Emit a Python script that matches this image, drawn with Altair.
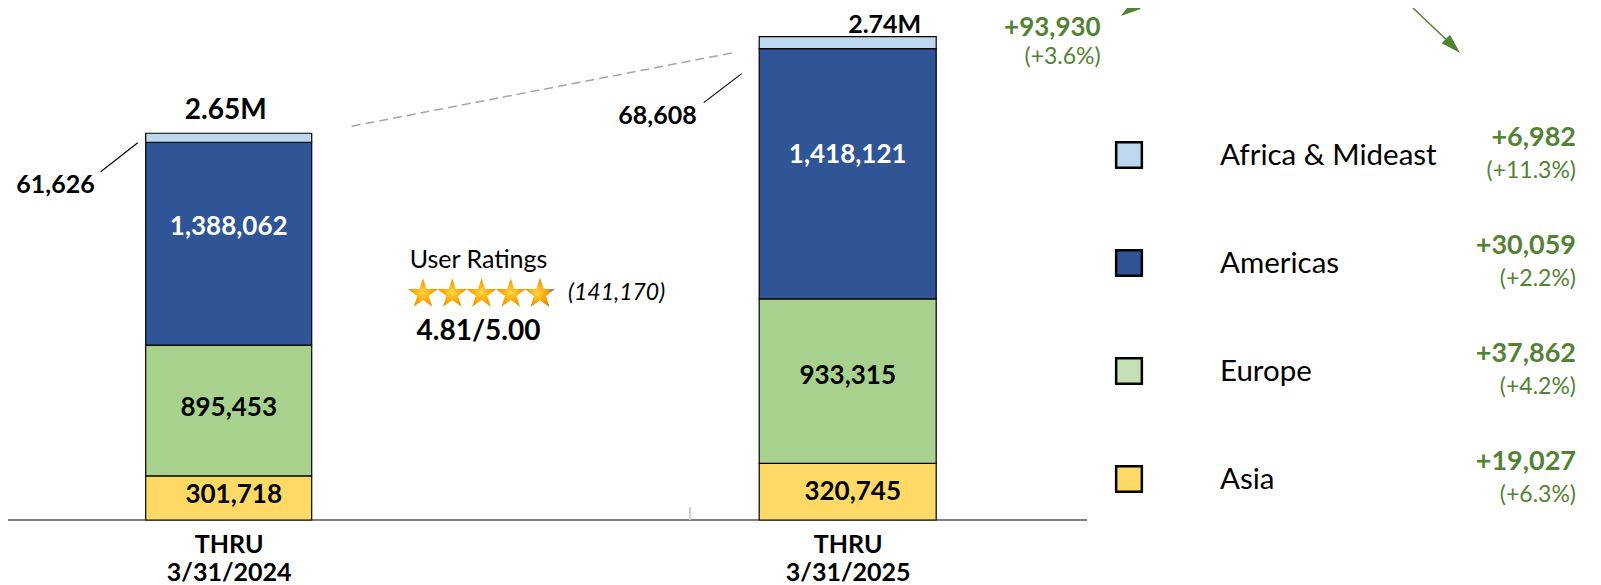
import math
import altair as alt
import pandas as pd

# ---------------- data ----------------
periods = ["3/31/2024", "3/31/2025"]
regions = ["Asia", "Europe", "Americas", "Africa & Mideast"]          # bottom -> top of stack
users_2024 = [301718, 895453, 1388062, 61626]
users_2025 = [320745, 933315, 1418121, 68608]
change_labels = ["+19,027", "+37,862", "+30,059", "+6,982"]
pct_labels = ["(+6.3%)", "(+4.2%)", "(+2.2%)", "(+11.3%)"]
total_change_label = "+93,930"
total_pct_label = "(+3.6%)"
legend_order = ["Africa & Mideast", "Americas", "Europe", "Asia"]
bar_colors = ["#FFD966", "#A9D18E", "#2F5597", "#BDD7EE"]
legend_colors = ["#FFD966", "#C5E0B4", "#2F5597", "#BDD7EE"]
rating = 4.81
rating_max = 5.0
rating_count = 141170
star_index = [1, 2, 3, 4, 5]

FONT = "Lato"
GREEN = "#548235"

# ---------------- scales ----------------
xscale = alt.Scale(type="point", domain=periods, range=[220.7, 839.7], padding=0)
xaxis = alt.Axis(title=None, domain=False, ticks=False, grid=False, labelAngle=0,
                 labelExpr="['THRU', datum.label]", labelFont=FONT, labelFontSize=25,
                 labelFontWeight="bold", labelColor="black", labelPadding=12,
                 labelLineHeight=28)
X = alt.X("period:N", scale=xscale, axis=xaxis)
color_scale = alt.Scale(domain=regions, range=bar_colors)


def period_group(period, values, ymax, bar_width, cfg):
    df = pd.DataFrame({"period": period, "region": regions, "users": values,
                       "k": list(range(len(regions)))})
    ys = alt.Scale(domain=[0, ymax], nice=False, zero=True)
    base = (alt.Chart(df)
            .transform_stack(as_=["y0", "y1"], stack="users", groupby=["period"],
                             sort=[alt.SortField("k", order="ascending")])
            .transform_joinaggregate(total="sum(users)", groupby=["period"])
            .transform_calculate(mid="(datum.y0 + datum.y1) / 2",
                                 total_label="format(datum.total / 1e6, '.2f') + 'M'"))
    bars = base.mark_bar(size=bar_width, stroke="black", strokeWidth=1.2).encode(
        x=X, y=alt.Y("y0:Q", scale=ys, axis=None), y2="y1:Q",
        color=alt.Color("region:N", scale=color_scale, legend=None))

    def seg_label(region, col, dx, dy):
        return base.transform_filter(alt.datum.region == region).mark_text(
            font=FONT, fontSize=26, fontWeight="bold", color=col, dx=dx, dy=dy,
            baseline="middle").encode(
            x=X, y=alt.Y("mid:Q", scale=ys, axis=None),
            text=alt.Text("users:Q", format=","))

    top = base.transform_filter(alt.datum.region == regions[-1])
    Ytop = alt.Y("y1:Q", scale=ys, axis=None)
    leader = top.mark_rule(color="black", strokeWidth=1.2,
                           xOffset=cfg["lead"][0], x2Offset=cfg["lead"][1],
                           yOffset=cfg["lead"][2], y2Offset=cfg["lead"][3]).encode(
        x=X, x2="period:N", y=Ytop, y2="y1:Q")
    small_label = top.mark_text(font=FONT, fontSize=25, fontWeight="bold", color="black",
                                align="right", baseline="alphabetic",
                                dx=cfg["small"][0], dy=cfg["small"][1]).encode(
        x=X, y=Ytop, text=alt.Text("users:Q", format=","))
    total_label = top.mark_text(font=FONT, fontSize=cfg["total_size"], fontWeight="bold",
                                color="black", baseline="alphabetic",
                                dx=cfg["total"][0], dy=cfg["total"][1]).encode(
        x=X, y=Ytop, text="total_label:N")
    layers = [bars,
              seg_label("Americas", "white", 0, cfg["am_dy"]),
              seg_label("Europe", "black", 0, cfg["eu_dy"]),
              seg_label("Asia", "black", 5, cfg["as_dy"]),
              leader, small_label, total_label]
    if cfg.get("dashed"):
        layers.append(top.mark_rule(color="#A6A6A6", strokeWidth=1.5, strokeDash=[9, 5],
                                    xOffset=123, x2Offset=-116, yOffset=-7).encode(
            x=X, x2=alt.datum(periods[1]), y=Ytop, y2=alt.value(45)))
    if cfg.get("change"):
        layers.append(top.mark_text(font=FONT, fontSize=26, fontWeight="bold", color=GREEN,
                                    align="right", baseline="alphabetic", dx=253, dy=-1).encode(
            x=X, y=Ytop, text=alt.value(total_change_label)))
        layers.append(top.mark_text(font=FONT, fontSize=23, color=GREEN,
                                    align="right", baseline="alphabetic", dx=253, dy=27).encode(
            x=X, y=Ytop, text=alt.value(total_pct_label)))
    return alt.layer(*layers)


g1 = period_group(periods[0], users_2024, 3504000, 166,
                  dict(lead=(-91, -128, 9.5, 38.5), small=(-134, 60), total=(-3, -14),
                       total_size=28, am_dy=-17, eu_dy=-2, as_dy=-3, dashed=True))
g2 = period_group(periods[1], users_2025, 2903000, 177,
                  dict(lead=(-106, -144, 37, 66), small=(-151, 87), total=(37, -4),
                       total_size=25, am_dy=-19, eu_dy=-5, as_dy=0, change=True))

frame = alt.Chart(pd.DataFrame({"a": [0]}))
baseline = frame.mark_rule(color="black", strokeWidth=1.2).encode(
    x=alt.value(0), x2=alt.value(1079), y=alt.value(512))
stub = frame.mark_rule(color="#D0D0D0", strokeWidth=2).encode(
    x=alt.value(682), y=alt.value(499), y2=alt.value(512))

bars_group = alt.layer(baseline, stub, g1, g2).resolve_scale(y="independent")

# ---------------- star rating ----------------
def star_points():
    pts = []
    for k in range(10):
        r = 1.0 if k % 2 == 0 else 0.382
        a = math.radians(-90 + 36 * k)
        pts.append((r * math.cos(a), r * math.sin(a) + 0.0955))
    return pts


def clip_left(pts, xc):
    out = []
    n = len(pts)
    for i in range(n):
        p, q = pts[i], pts[(i + 1) % n]
        pin, qin = p[0] <= xc, q[0] <= xc
        if pin:
            out.append(p)
        if pin != qin:
            t = (xc - p[0]) / (q[0] - p[0])
            out.append((xc, p[1] + t * (q[1] - p[1])))
    return out


def to_path(pts):
    return "M" + "L".join(f"{x:.4f},{y:.4f}" for x, y in pts) + "Z"


pts = star_points()
xmin = min(p[0] for p in pts)
xmax = max(p[0] for p in pts)
frac = rating - math.floor(rating)
STAR = to_path(pts)
STAR_PART = to_path(clip_left(pts, xmin + frac * (xmax - xmin)))

gold = alt.RadialGradient(gradient="radial", r1=0, r2=0.6,
                          stops=[alt.GradientStop(color="#FFD84A", offset=0),
                                 alt.GradientStop(color="#FFA800", offset=0.5),
                                 alt.GradientStop(color="#EC8200", offset=1)])
grey = alt.RadialGradient(gradient="radial", r1=0, r2=0.6,
                          stops=[alt.GradientStop(color="#A8A8A8", offset=0),
                                 alt.GradientStop(color="#7A7A7A", offset=1)])

sdf = pd.DataFrame({"i": star_index})
sbase = alt.Chart(sdf).transform_calculate(
    fill=f"clamp({rating} - (datum.i - 1), 0, 1)")
SX = alt.X("i:Q", scale=alt.Scale(domain=[1, 5], range=[415, 532]), axis=None)
STAR_SIZE = 1000
full_stars = sbase.transform_filter("datum.fill >= 1").mark_point(
    shape=STAR, size=STAR_SIZE, filled=True, fill=gold, strokeWidth=0, opacity=1).encode(
    x=SX, y=alt.value(284.5))
grey_stars = sbase.transform_filter("datum.fill < 1").mark_point(
    shape=STAR, size=STAR_SIZE, filled=True, fill=grey, strokeWidth=0, opacity=1).encode(
    x=SX, y=alt.value(284.5))
part_stars = sbase.transform_filter("datum.fill > 0 && datum.fill < 1").mark_point(
    shape=STAR_PART, size=STAR_SIZE, filled=True, fill=gold, strokeWidth=0, opacity=1).encode(
    x=SX, y=alt.value(284.5))

one = alt.Chart(pd.DataFrame({"a": [0]}))
t_user = one.mark_text(font=FONT, fontSize=25, color="black", baseline="alphabetic", dx=-3).encode(
    x=alt.datum(3), y=alt.value(260), text=alt.value("User Ratings"))
t_count = one.mark_text(font=FONT, fontSize=23, fontStyle="italic", color="black",
                        align="left", baseline="alphabetic", dx=28).encode(
    x=alt.datum(5), y=alt.value(292), text=alt.value(f"({rating_count:,})"))
t_score = one.mark_text(font=FONT, fontSize=28, fontWeight="bold", color="black",
                        baseline="alphabetic", dx=-3).encode(
    x=alt.datum(3), y=alt.value(332), text=alt.value(f"{rating:.2f}/{rating_max:.2f}"))

stars_group = alt.layer(full_stars, grey_stars, part_stars, t_user, t_count, t_score)

# ---------------- legend with changes ----------------
ldf = pd.DataFrame({"region": regions, "chg": change_labels, "pct": pct_labels})
LY = alt.Y("region:N", scale=alt.Scale(type="point", domain=legend_order,
                                       range=[147, 471], padding=0), axis=None)
lbase = alt.Chart(ldf)
squares = lbase.mark_point(shape="square", size=660, filled=True, stroke="black",
                           strokeWidth=2.5, opacity=1).encode(
    x=alt.value(1121), y=LY,
    fill=alt.Fill("region:N", scale=alt.Scale(domain=regions, range=legend_colors), legend=None))
names = lbase.mark_text(font=FONT, fontSize=29.5, color="black", align="left",
                        baseline="middle", dy=1).encode(
    x=alt.value(1212), y=LY, text="region:N")
chg = lbase.mark_text(font=FONT, fontSize=27, fontWeight="bold", color=GREEN, align="right",
                      baseline="alphabetic", dy=-9).encode(
    x=alt.value(1568), y=LY, text="chg:N")
pct = lbase.mark_text(font=FONT, fontSize=23, color=GREEN, align="right",
                      baseline="alphabetic", dy=23).encode(
    x=alt.value(1568), y=LY, text="pct:N")

ARROW = "M0,-1L0.6,1L-0.6,1Z"
arrow1_line = one.mark_rule(color=GREEN, strokeWidth=1.5).encode(
    x=alt.value(1124), y=alt.value(0), x2=alt.value(1116), y2=alt.value(6))
arrow1_head = one.mark_point(shape=ARROW, size=400, filled=True, fill=GREEN, strokeWidth=0,
                             opacity=1, angle=234).encode(x=alt.value(1121), y=alt.value(2))
arrow2_line = one.mark_rule(color=GREEN, strokeWidth=1.5).encode(
    x=alt.value(1405), y=alt.value(0), x2=alt.value(1445), y2=alt.value(38))
arrow2_head = one.mark_point(shape=ARROW, size=400, filled=True, fill=GREEN, strokeWidth=0,
                             opacity=1, angle=134).encode(x=alt.value(1445), y=alt.value(38))

legend_group = alt.layer(squares, names, chg, pct, arrow1_line, arrow1_head,
                         arrow2_line, arrow2_head)

chart = (alt.layer(bars_group, stars_group, legend_group)
         .resolve_scale(x="independent", y="independent")
         .properties(width=1585, height=512,
                     padding={"left": 0, "top": 0, "right": 0, "bottom": 65},
                     autosize=alt.AutoSizeParams(type="none"))
         .configure(font=FONT)
         .configure_view(stroke=None))

chart.save("out.html", embed_options={"renderer": "svg", "actions": False})
